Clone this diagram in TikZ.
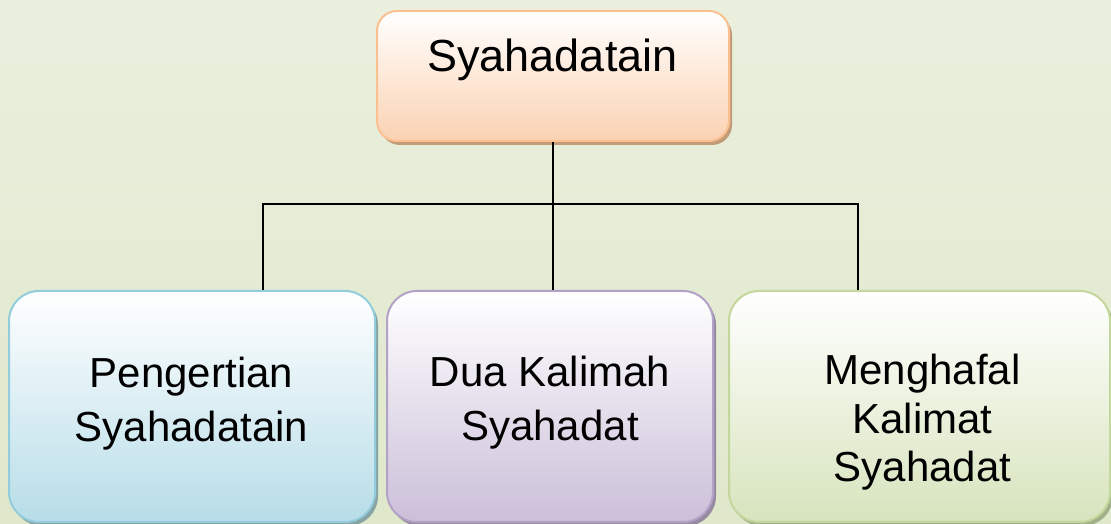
\documentclass[tikz,border=0pt]{standalone}
\usepackage{fontspec}
\setmainfont{Liberation Sans}
\usetikzlibrary{shadows}
\definecolor{bgtop}{HTML}{EBEFDE}
\definecolor{bgbot}{HTML}{DFE8CB}
\definecolor{orfill}{HTML}{FBD2B2}
\definecolor{orline}{HTML}{FAC090}
\definecolor{orshadow}{HTML}{C29B79}
\definecolor{blfill}{HTML}{B7DDE8}
\definecolor{blline}{HTML}{93CDDD}
\definecolor{blshadow}{HTML}{87A3A3}
\definecolor{pufill}{HTML}{CBBFD9}
\definecolor{puline}{HTML}{B3A2C7}
\definecolor{pushadow}{HTML}{958AA0}
\definecolor{grfill}{HTML}{D7E4BD}
\definecolor{grline}{HTML}{C3D69B}
\definecolor{grshadow}{HTML}{A0B088}
\begin{document}
\begin{tikzpicture}[x=1pt,y=1pt,
  box/.style={rectangle, line width=2pt, inner sep=0pt},
  topbox/.style={box, rounded corners=20pt, minimum width=352pt, minimum height=130pt,
    draw=orline, top color=white, bottom color=orfill,
    drop shadow={shadow xshift=3pt, shadow yshift=-4pt, fill=orshadow, opacity=1}},
  lowbox/.style={box, rounded corners=30pt, minimum height=231pt},
  toptext/.style={anchor=base, font=\fontsize{45}{54}\selectfont, inner sep=0pt},
  lowtext/.style={anchor=base, font=\fontsize{42}{54}\selectfont, inner sep=0pt, align=center},
  conn/.style={line width=1.4pt, black}]
\fill[top color=bgtop, bottom color=bgbot] (0,0) rectangle (1111,524);
\useasboundingbox (0,0) rectangle (1111,524);

\node[topbox] (top) at (553,448) {};
\node[toptext] (t0) at (552.5,452) {Syahadatain};

\node[lowbox, minimum width=366pt, draw=blline, top color=white, bottom color=blfill,
  drop shadow={shadow xshift=3pt, shadow yshift=-4pt, fill=blshadow, opacity=1}] (b1) at (192,117.5) {};
\node[lowbox, minimum width=326pt, draw=puline, top color=white, bottom color=pufill,
  drop shadow={shadow xshift=3pt, shadow yshift=-4pt, fill=pushadow, opacity=1}] (b2) at (550,117.5) {};
\node[lowbox, minimum width=381pt, draw=grline, top color=white, bottom color=grfill,
  drop shadow={shadow xshift=3pt, shadow yshift=-4pt, fill=grshadow, opacity=1}] (b3) at (919.5,117.5) {};

\node[lowtext] (t1) at (191.5,82) {Pengertian\\Syahadatain};
\node[lowtext] (t2) at (550,83) {Dua Kalimah\\Syahadat};
\node[lowtext, font=\fontsize{42}{48.5}\selectfont] (t3) at (922.5,42) {Menghafal\\Kalimat\\Syahadat};

\coordinate (hl) at (263,320);
\coordinate (hr) at (858,320);
\draw[conn] (top.south) -- (top.south |- b2.north);
\draw[conn] (b1.north -| hl) |- (hr) -- (b3.north -| hr);
\end{tikzpicture}
\end{document}
